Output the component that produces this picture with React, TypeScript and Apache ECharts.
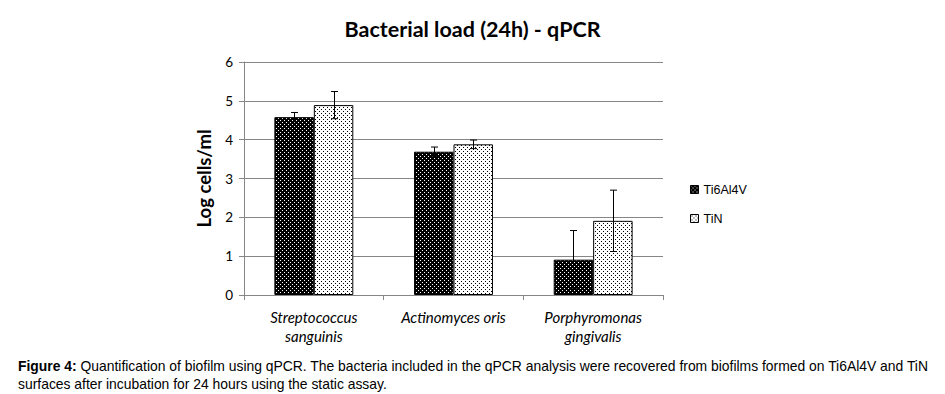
import React, { useEffect, useRef } from "react";
import * as echarts from "echarts";

const categories = ["Streptococcus\nsanguinis", "Actinomyces oris", "Porphyromonas\ngingivalis"];
const seriesNames = ["Ti6Al4V", "TiN"];
const ti6al4v = [4.58, 3.69, 0.91];
const ti6al4vErr = [0.12, 0.12, 0.75];
const tin = [4.89, 3.88, 1.91];
const tinErr = [0.35, 0.11, 0.79];
const yTicks = { min: 0, max: 6, interval: 1 };
const titleText = "Bacterial load (24h) - qPCR";
const yName = "Log cells/ml";
const captionBold = "Figure 4:";
const captionLine1 = " Quantification of biofilm using qPCR. The bacteria included in the qPCR analysis were recovered from biofilms formed on Ti6Al4V and TiN";
const captionLine2 = "surfaces after incubation for 24 hours using the static assay.";

const CAT_GAP = 0.435;

function makePattern(bg: string, dot: string, size: number, dots: number[][]) {
  const c = document.createElement("canvas");
  c.width = size;
  c.height = size;
  const ctx = c.getContext("2d")!;
  ctx.fillStyle = bg;
  ctx.fillRect(0, 0, size, size);
  ctx.fillStyle = dot;
  dots.forEach(([x, y]) => ctx.fillRect(x, y, 1, 1));
  return { image: c, repeat: "repeat" } as any;
}

export default function App() {
  const ref = useRef<HTMLDivElement>(null);
  useEffect(() => {
    if (!ref.current) return;
    const chart = echarts.init(ref.current, undefined, { renderer: "svg" });
    const darkPat = makePattern("#000", "#fff", 4, [[0, 0], [2, 2]]);
    const lightPat = makePattern("#fff", "#000", 4, [[1, 1], [3, 3]]);
    const pats = [darkPat, lightPat];
    const errs = [ti6al4vErr, tinErr];
    const vals = [ti6al4v, tin];

    const errSeries = [0, 1].map((si) => ({
      type: "custom",
      name: seriesNames[si] + " error",
      silent: true,
      z: 5,
      data: vals[si].map((v, i) => [i, v, errs[si][i]]),
      renderItem: (params: any, api: any) => {
        const idx = api.value(0);
        const v = api.value(1);
        const e = api.value(2);
        const bw = api.size([1, 0])[0];
        const barW = (bw * (1 - CAT_GAP)) / 2;
        const center = api.coord([idx, v]);
        const cx = Math.round(center[0] + (si === 0 ? -barW / 2 : barW / 2)) + 0.5;
        const top = api.coord([idx, v + e])[1];
        const bot = api.coord([idx, v - e])[1];
        const cap = 3.5;
        const st = { stroke: "#000", lineWidth: 1 };
        return {
          type: "group",
          children: [
            { type: "line", shape: { x1: cx, y1: top, x2: cx, y2: bot }, style: st },
            { type: "line", shape: { x1: cx - cap, y1: top, x2: cx + cap, y2: top }, style: st },
            { type: "line", shape: { x1: cx - cap, y1: bot, x2: cx + cap, y2: bot }, style: st },
          ],
        };
      },
    }));

    const font = "Lato, 'Open Sans', sans-serif";
    const capFont = "'Liberation Sans', Arial, sans-serif";
    chart.setOption({
      animation: false,
      backgroundColor: "#fff",
      title: {
        text: titleText,
        left: "center",
        top: 13,
        textStyle: { fontFamily: font, fontWeight: "bold", fontSize: 21.5, color: "#000" },
      },
      legend: {
        orient: "vertical",
        left: 685,
        top: 178,
        itemWidth: 8,
        itemHeight: 8,
        itemGap: 16,
        icon: "rect",
        textStyle: { fontFamily: capFont, fontSize: 12.5, color: "#000" },
        data: seriesNames.map((n, i) => ({
          name: n,
          itemStyle: { color: pats[i], borderColor: "#000", borderWidth: 1 },
        })),
      },
      grid: { left: 244, right: 282, top: 62, bottom: 99, containLabel: false },
      xAxis: {
        type: "category",
        data: categories,
        axisLine: { lineStyle: { color: "#868686" } },
        axisTick: { show: true, length: 5, lineStyle: { color: "#868686" } },
        axisLabel: {
          fontFamily: font,
          fontStyle: "italic",
          fontSize: 15,
          color: "#000",
          lineHeight: 19,
          margin: 12,
          interval: 0,
        },
      },
      yAxis: {
        type: "value",
        min: yTicks.min,
        max: yTicks.max,
        interval: yTicks.interval,
        name: yName,
        nameLocation: "middle",
        nameGap: 31,
        nameTextStyle: { fontFamily: font, fontWeight: "bold", fontSize: 18.5, color: "#000" },
        axisLine: { show: true, lineStyle: { color: "#868686" } },
        axisTick: { show: true, length: 5, lineStyle: { color: "#868686" } },
        axisLabel: { fontFamily: font, fontSize: 13.5, color: "#000", margin: 11 },
        splitLine: { lineStyle: { color: "#868686", width: 1 } },
      },
      series: [
        ...[0, 1].map((si) => ({
          type: "bar",
          name: seriesNames[si],
          data: vals[si],
          barGap: "0%",
          barCategoryGap: CAT_GAP * 100 + "%",
          itemStyle: { color: pats[si], borderColor: "#000", borderWidth: 1 },
        })),
        ...errSeries,
      ],
      graphic: [
        {
          type: "text",
          left: 18,
          top: 359,
          style: {
            text: "{b|" + captionBold + "}" + captionLine1,
            fontFamily: capFont,
            fontSize: 13.9,
            fill: "#000",
            rich: {
              b: { fontWeight: "bold", fontFamily: capFont, fontSize: 13.9 },
            },
          },
        },
        {
          type: "text",
          left: 18,
          top: 377,
          style: {
            text: captionLine2,
            fontFamily: capFont,
            fontSize: 13.9,
            fill: "#000",
          },
        },
      ],
    });
    return () => chart.dispose();
  }, []);
  return (
    <div
      ref={ref}
      style={{ position: "absolute", left: 0, top: 0, width: 945, height: 394, background: "#fff" }}
    />
  );
}
